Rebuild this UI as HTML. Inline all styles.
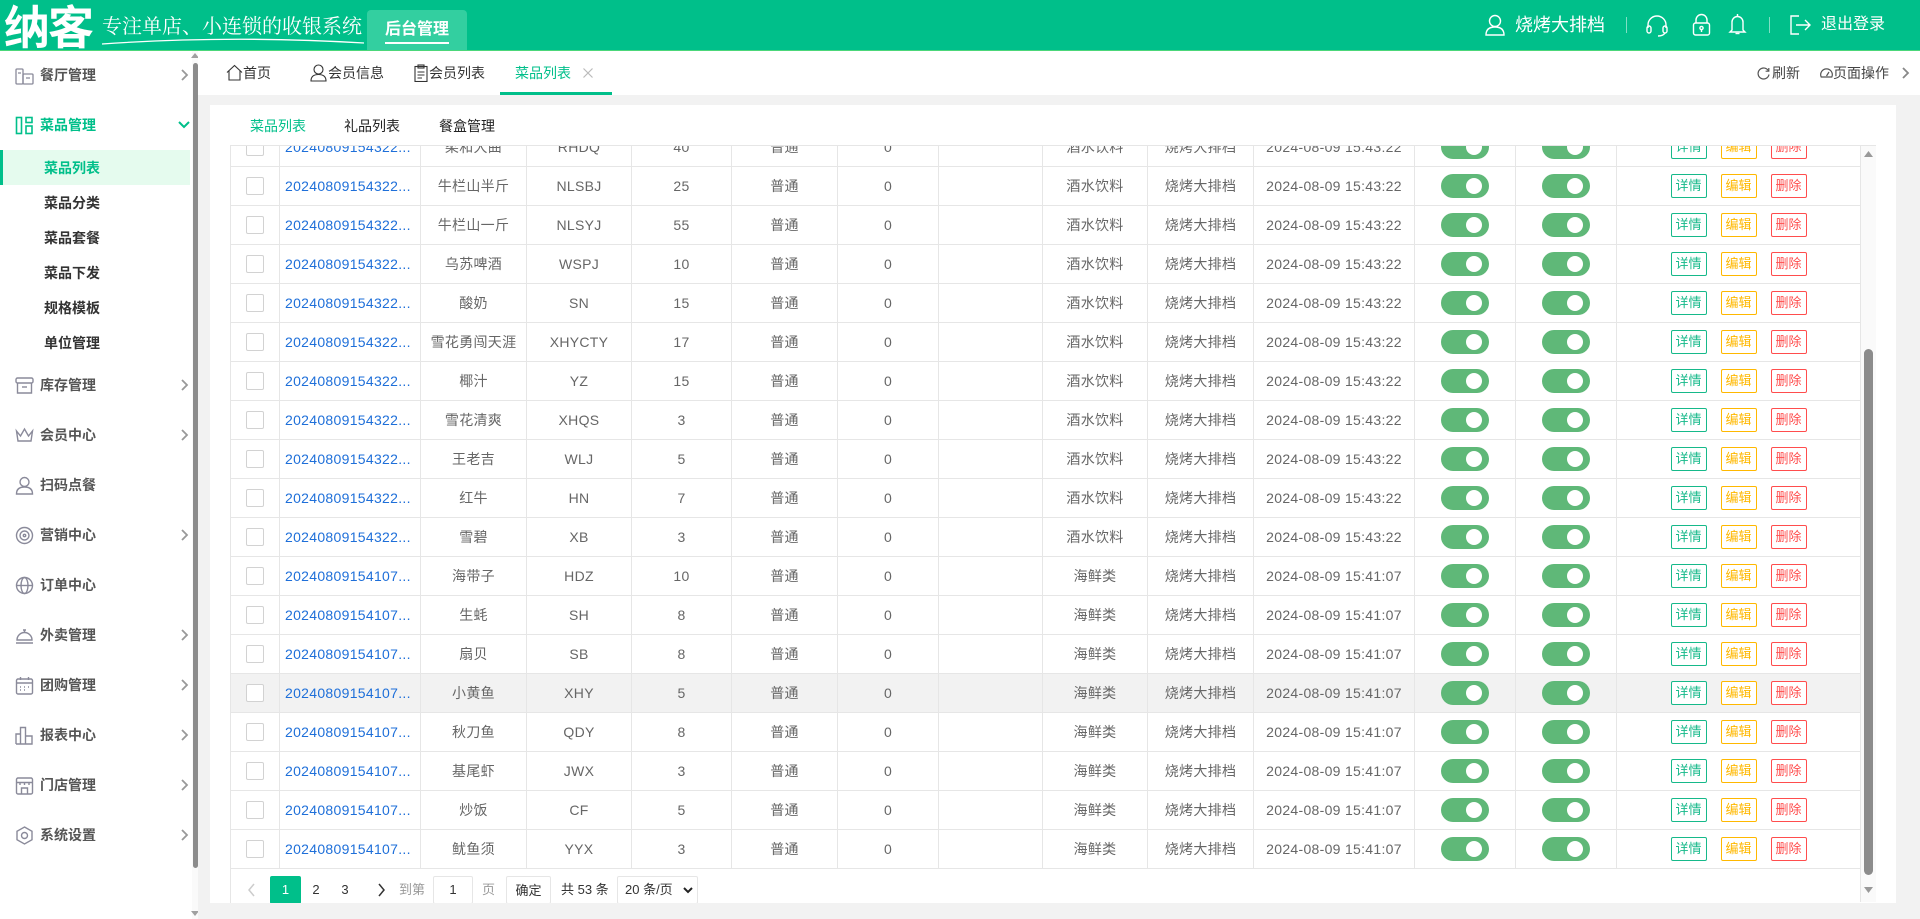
<!DOCTYPE html>
<html><head><meta charset="utf-8">
<style>
*{margin:0;padding:0;box-sizing:border-box}
body{width:1920px;height:919px;overflow:hidden;position:relative;background:#f2f2f2;font-family:"Liberation Sans","Noto Sans CJK SC",sans-serif;color:#333}
.a{position:absolute}
.hdr{left:0;top:0;width:1920px;height:50px;background:#00bf8a}
.hline{left:0;top:50px;width:1920px;height:1px;background:#4cd77a}
.side{left:0;top:51px;width:192px;height:868px;background:#fff}
.mi{position:absolute;left:40px;font-size:14px;font-weight:bold;color:#555;line-height:20px;white-space:nowrap}
.si{position:absolute;left:44px;font-size:14px;font-weight:bold;color:#333;line-height:20px;white-space:nowrap}
.chev{position:absolute;left:179px;width:10px;height:12px}
.ic{position:absolute;left:15px;width:19px;height:19px}
.tabbar{left:198px;top:51px;width:1722px;height:44px;background:#fff}
.tt{position:absolute;font-size:14px;color:#333;line-height:20px;top:63px;white-space:nowrap}
.panel{left:210px;top:105px;width:1686px;height:798px;background:#fff}
.rows{left:230px;top:146px;width:1630px;height:723px;overflow:hidden}
.row{position:absolute;left:0;width:1630px;height:39px;display:flex;border-bottom:1px solid #e6e6e6;background:#fff}
.row.hl{background:#f2f2f2}
.c{border-left:1px solid #e6e6e6;height:100%;display:flex;align-items:center;justify-content:center;font-size:14px;color:#666;white-space:nowrap;overflow:hidden;letter-spacing:0.3px}
.w1{width:49px}.w2{width:141px;justify-content:flex-start;padding-left:5px;color:#1e6fd9}.w3{width:106px}.w4{width:105px}.w5{width:100px}.w6{width:106px}.w7{width:101px}.w8{width:104px}.w9{width:105px}.w10{width:106px}.w11{width:161px}.w12{width:101px}.w13{width:101px}.w14{width:244px}
.cb{width:18px;height:18px;border:1px solid #d2d2d2;border-radius:2px;background:#fff}
.sw{width:48px;height:24px;border-radius:12px;background:#5fb878;position:relative}
.sw::after{content:"";position:absolute;left:25px;top:4px;width:16px;height:16px;border-radius:50%;background:#fff}
.bt{width:36px;height:24px;border:1px solid;border-radius:2px;font-size:13px;line-height:22px;text-align:center;letter-spacing:0;margin:0 7px;background:#fff}
.g{color:#16b98a;border-color:#16b98a}.y{color:#ffb800;border-color:#ffb800}.r{color:#ff4d4d;border-color:#ff4d4d}
.pg{position:absolute;top:876px;height:28px;line-height:28px;font-size:13px;color:#333;white-space:nowrap}
</style></head><body>

<!-- HEADER -->
<div class="a hdr"></div>
<div class="a hline"></div>
<div class="a" style="left:4px;top:0;height:50px;line-height:50px;font-size:46px;font-weight:bold;color:#fff;letter-spacing:-2px;font-family:'Noto Sans CJK SC',sans-serif">纳客</div>
<div class="a" style="left:102px;top:12px;line-height:26px;font-size:20px;color:#fff;font-family:'Noto Serif CJK SC',serif;white-space:nowrap">专注单店、小连锁的收银系统</div>
<svg class="a" style="left:100px;top:34px" width="266" height="14"><path d="M2 10 Q130 1 264 9" stroke="#fff" stroke-width="1.3" fill="none"/></svg>
<div class="a" style="left:367px;top:10px;width:100px;height:40px;background:#33cfa0;border-radius:4px 4px 0 0"></div>
<div class="a" style="left:385px;top:18px;line-height:24px;font-size:16px;font-weight:bold;color:#fff;white-space:nowrap">后台管理</div>
<div class="a" style="left:385px;top:42px;width:64px;height:2px;background:#fff"></div>

<svg class="a" style="left:1484px;top:13px" width="22" height="24" fill="none" stroke="#fff" stroke-width="1.4"><circle cx="11" cy="8" r="5.5"/><path d="M2 22 Q2 14 11 14 Q20 14 20 22 Z"/></svg>
<div class="a" style="left:1515px;top:13px;line-height:24px;font-size:18px;color:#fff;white-space:nowrap">烧烤大排档</div>
<div class="a" style="left:1626px;top:17px;width:1px;height:16px;background:rgba(255,255,255,.5)"></div>
<svg class="a" style="left:1645px;top:14px" width="24" height="24" fill="none" stroke="#fff" stroke-width="1.4"><path d="M3 14 V11 A9 9 0 0 1 21 11 V14"/><rect x="2" y="12" width="4" height="7" rx="2"/><rect x="18" y="12" width="4" height="7" rx="2"/><path d="M20 19 Q18 22 13 22"/></svg>
<svg class="a" style="left:1692px;top:13px" width="19" height="24" fill="none" stroke="#fff" stroke-width="1.4"><path d="M4 10 V7 A5.5 5.5 0 0 1 15 7 V10"/><rect x="1.5" y="10" width="16" height="12" rx="2"/><circle cx="9.5" cy="15" r="1.6"/><path d="M9.5 16.5 V19"/></svg>
<svg class="a" style="left:1728px;top:12px" width="19" height="24" fill="none" stroke="#fff" stroke-width="1.4"><path d="M9.5 2 V4 M4 18 V10 A5.5 5.5 0 0 1 15 10 V18 L17 20 H2 L4 18 Z"/><path d="M7.5 21.5 H11.5"/></svg>
<div class="a" style="left:1769px;top:17px;width:1px;height:16px;background:rgba(255,255,255,.5)"></div>
<svg class="a" style="left:1789px;top:14px" width="23" height="22" fill="none" stroke="#fff" stroke-width="1.4"><path d="M10 2 H2 V20 H10"/><path d="M7 11 H21 M16 6 L21 11 L16 16"/></svg>
<div class="a" style="left:1821px;top:13px;line-height:24px;font-size:16px;color:#fff;white-space:nowrap">退出登录</div>

<!-- SIDEBAR -->
<div class="a side">
  <!-- y offsets relative to top 51 -->
  <svg class="ic" style="top:15px" viewBox="0 0 19 19" fill="none" stroke="#8a8a9a" stroke-width="1.3"><rect x="1" y="3" width="7" height="15" rx="1"/><rect x="8" y="8" width="10" height="10" rx="1"/><path d="M3 7 H6 M11 12 H15"/></svg>
  <div class="mi" style="top:14px">餐厅管理</div>
  <svg class="chev" style="top:18px" viewBox="0 0 10 12"><path d="M3 1 L8 6 L3 11" stroke="#999" stroke-width="1.8" fill="none"/></svg>

  <svg class="ic" style="top:65px" viewBox="0 0 19 19" fill="none" stroke="#00bf8a" stroke-width="1.6"><rect x="1.5" y="1.5" width="5" height="16"/><rect x="11" y="1.5" width="6" height="5"/><rect x="11" y="10" width="6" height="7.5"/></svg>
  <div class="mi" style="top:64px;color:#00bf8a">菜品管理</div>
  <svg class="chev" style="left:178px;top:68px;width:12px" viewBox="0 0 12 10"><path d="M1 2 L6 7 L11 2" stroke="#00bf8a" stroke-width="2" fill="none"/></svg>

  <div class="a" style="left:0;top:99px;width:190px;height:35px;background:#e5fbee"></div>
  <div class="a" style="left:0;top:99px;width:3px;height:35px;background:#00bf8a"></div>
  <div class="si" style="top:107px;color:#00bf8a">菜品列表</div>
  <div class="si" style="top:142px">菜品分类</div>
  <div class="si" style="top:177px">菜品套餐</div>
  <div class="si" style="top:212px">菜品下发</div>
  <div class="si" style="top:247px">规格模板</div>
  <div class="si" style="top:282px">单位管理</div>

  <svg class="ic" style="top:325px" viewBox="0 0 19 19" fill="none" stroke="#8a8a9a" stroke-width="1.4"><rect x="1" y="2" width="17" height="5" rx="1.5"/><path d="M2.5 7 V17 H16.5 V7"/><path d="M7 11 H12"/></svg>
  <div class="mi" style="top:324px">库存管理</div>
  <svg class="chev" style="top:328px" viewBox="0 0 10 12"><path d="M3 1 L8 6 L3 11" stroke="#999" stroke-width="1.8" fill="none"/></svg>

  <svg class="ic" style="top:375px" viewBox="0 0 19 19" fill="none" stroke="#8a8a9a" stroke-width="1.4"><path d="M1.5 5 L5.5 10 L9.5 3 L13.5 10 L17.5 5 L16 15 H3 Z"/></svg>
  <div class="mi" style="top:374px">会员中心</div>
  <svg class="chev" style="top:378px" viewBox="0 0 10 12"><path d="M3 1 L8 6 L3 11" stroke="#999" stroke-width="1.8" fill="none"/></svg>

  <svg class="ic" style="top:425px" viewBox="0 0 19 19" fill="none" stroke="#8a8a9a" stroke-width="1.4"><circle cx="9.5" cy="6" r="4.5"/><path d="M1.5 18 Q1.5 11 9.5 11 Q17.5 11 17.5 18 Z"/></svg>
  <div class="mi" style="top:424px">扫码点餐</div>

  <svg class="ic" style="top:475px" viewBox="0 0 19 19" fill="none" stroke="#8a8a9a" stroke-width="1.4"><circle cx="9.5" cy="9.5" r="8"/><circle cx="9.5" cy="9.5" r="4.5"/><circle cx="9.5" cy="9.5" r="1.2"/></svg>
  <div class="mi" style="top:474px">营销中心</div>
  <svg class="chev" style="top:478px" viewBox="0 0 10 12"><path d="M3 1 L8 6 L3 11" stroke="#999" stroke-width="1.8" fill="none"/></svg>

  <svg class="ic" style="top:525px" viewBox="0 0 19 19" fill="none" stroke="#8a8a9a" stroke-width="1.4"><circle cx="9.5" cy="9.5" r="8"/><ellipse cx="9.5" cy="9.5" rx="3.5" ry="8"/><path d="M1.5 9.5 H17.5"/></svg>
  <div class="mi" style="top:524px">订单中心</div>

  <svg class="ic" style="top:575px" viewBox="0 0 19 19" fill="none" stroke="#8a8a9a" stroke-width="1.4"><path d="M2 14 A7.5 7.5 0 0 1 17 14 Z"/><path d="M1 17 H18"/><path d="M8 4 L11 4 M9.5 4 V6.5"/></svg>
  <div class="mi" style="top:574px">外卖管理</div>
  <svg class="chev" style="top:578px" viewBox="0 0 10 12"><path d="M3 1 L8 6 L3 11" stroke="#999" stroke-width="1.8" fill="none"/></svg>

  <svg class="ic" style="top:625px" viewBox="0 0 19 19" fill="none" stroke="#8a8a9a" stroke-width="1.4"><rect x="1.5" y="3" width="16" height="15" rx="1.5"/><path d="M1.5 7 H17.5 M5.5 1 V4 M13.5 1 V4"/><path d="M5 11 H6 M9 11 H10 M13 11 H14 M5 14 H6 M9 14 H10"/></svg>
  <div class="mi" style="top:624px">团购管理</div>
  <svg class="chev" style="top:628px" viewBox="0 0 10 12"><path d="M3 1 L8 6 L3 11" stroke="#999" stroke-width="1.8" fill="none"/></svg>

  <svg class="ic" style="top:675px" viewBox="0 0 19 19" fill="none" stroke="#8a8a9a" stroke-width="1.4"><path d="M1 18 V8 H5.5 V18 M5.5 18 V1.5 H10.5 V18 M10.5 18 V10 H17 V18 Z M1 18 H17"/></svg>
  <div class="mi" style="top:674px">报表中心</div>
  <svg class="chev" style="top:678px" viewBox="0 0 10 12"><path d="M3 1 L8 6 L3 11" stroke="#999" stroke-width="1.8" fill="none"/></svg>

  <svg class="ic" style="top:725px" viewBox="0 0 19 19" fill="none" stroke="#8a8a9a" stroke-width="1.4"><rect x="1.5" y="2" width="16" height="16" rx="1.5"/><path d="M1.5 6.5 H17.5 M5 6.5 V9 M9.5 6.5 V9 M14 6.5 V9"/><path d="M6.5 18 V12 H12.5 V18"/></svg>
  <div class="mi" style="top:724px">门店管理</div>
  <svg class="chev" style="top:728px" viewBox="0 0 10 12"><path d="M3 1 L8 6 L3 11" stroke="#999" stroke-width="1.8" fill="none"/></svg>

  <svg class="ic" style="top:775px" viewBox="0 0 19 19" fill="none" stroke="#8a8a9a" stroke-width="1.4"><path d="M9.5 1 L17 5.3 V13.7 L9.5 18 L2 13.7 V5.3 Z"/><circle cx="9.5" cy="9.5" r="3"/></svg>
  <div class="mi" style="top:774px">系统设置</div>
  <svg class="chev" style="top:778px" viewBox="0 0 10 12"><path d="M3 1 L8 6 L3 11" stroke="#999" stroke-width="1.8" fill="none"/></svg>
</div>
<!-- sidebar scrollbar -->
<div class="a" style="left:192px;top:51px;width:6px;height:868px;background:#fafafa"></div>
<div class="a" style="left:193px;top:63px;width:5px;height:805px;background:#8c8c8c;border-radius:3px"></div>
<svg class="a" style="left:191px;top:53px" width="8" height="5"><path d="M0 5 L4 0 L8 5 Z" fill="#a0a0a0"/></svg>
<svg class="a" style="left:191px;top:911px" width="8" height="5"><path d="M0 0 L4 5 L8 0 Z" fill="#a0a0a0"/></svg>

<!-- TAB BAR -->
<div class="a tabbar"></div>
<svg class="a" style="left:226px;top:64px" width="17" height="17" fill="none" stroke="#333" stroke-width="1.1"><path d="M1 8.5 L8.5 1.5 L16 8.5 M3 7 V16 H14 V7"/></svg>
<div class="tt" style="left:243px">首页</div>
<svg class="a" style="left:310px;top:64px" width="17" height="18" fill="none" stroke="#333" stroke-width="1.1"><circle cx="8.5" cy="5.5" r="4.5"/><path d="M1 17 Q1 10.5 8.5 10.5 Q16 10.5 16 17 Z"/></svg>
<div class="tt" style="left:328px">会员信息</div>
<svg class="a" style="left:414px;top:64px" width="14" height="18" fill="none" stroke="#333" stroke-width="1.1"><rect x="1" y="2.5" width="12" height="15"/><rect x="4" y="1" width="6" height="3"/><path d="M3.5 8 H10.5 M3.5 11 H10.5 M3.5 14 H8"/></svg>
<div class="tt" style="left:429px">会员列表</div>
<div class="tt" style="left:515px;color:#00bf8a">菜品列表</div>
<svg class="a" style="left:583px;top:68px" width="10" height="10"><path d="M0.5 0.5 L9.5 9.5 M9.5 0.5 L0.5 9.5" stroke="#bbb" stroke-width="1.2"/></svg>
<div class="a" style="left:500px;top:92px;width:112px;height:3px;background:#00bf8a"></div>

<svg class="a" style="left:1757px;top:67px" width="13" height="13" fill="none" stroke="#555" stroke-width="1.2"><path d="M11.5 4 A5.5 5.5 0 1 0 12 7.5"/><path d="M11.8 1 V4.2 H8.6"/></svg>
<div class="tt" style="left:1772px;color:#444">刷新</div>
<svg class="a" style="left:1820px;top:67px" width="13" height="13" fill="none" stroke="#555" stroke-width="1.2"><path d="M1.2 10 A5.8 5.8 0 1 1 11.8 10 Z"/><path d="M6.5 9 L9 5"/></svg>
<div class="tt" style="left:1833px;color:#444">页面操作</div>
<svg class="a" style="left:1901px;top:67px" width="9" height="12"><path d="M2 1 L7 6 L2 11" stroke="#888" stroke-width="1.8" fill="none"/></svg>

<!-- PANEL -->
<div class="a panel"></div>
<div class="a" style="left:250px;top:116px;font-size:14px;line-height:20px;color:#00bf8a">菜品列表</div>
<div class="a" style="left:344px;top:116px;font-size:14px;line-height:20px;color:#222">礼品列表</div>
<div class="a" style="left:439px;top:116px;font-size:14px;line-height:20px;color:#222">餐盒管理</div>
<div class="a" style="left:230px;top:145px;width:1646px;height:1px;background:#e6e6e6"></div>

<div class="a rows">
<div class="row" style="top:-18px"><div class="c w1"><div class="cb"></div></div><div class="c w2">20240809154322...</div><div class="c w3">柔和大曲</div><div class="c w4">RHDQ</div><div class="c w5">40</div><div class="c w6">普通</div><div class="c w7">0</div><div class="c w8"></div><div class="c w9">酒水饮料</div><div class="c w10">烧烤大排档</div><div class="c w11">2024-08-09 15:43:22</div><div class="c w12"><div class="sw"></div></div><div class="c w13"><div class="sw"></div></div><div class="c w14"><div class="bt g">详情</div><div class="bt y">编辑</div><div class="bt r">删除</div></div></div>
<div class="row" style="top:21px"><div class="c w1"><div class="cb"></div></div><div class="c w2">20240809154322...</div><div class="c w3">牛栏山半斤</div><div class="c w4">NLSBJ</div><div class="c w5">25</div><div class="c w6">普通</div><div class="c w7">0</div><div class="c w8"></div><div class="c w9">酒水饮料</div><div class="c w10">烧烤大排档</div><div class="c w11">2024-08-09 15:43:22</div><div class="c w12"><div class="sw"></div></div><div class="c w13"><div class="sw"></div></div><div class="c w14"><div class="bt g">详情</div><div class="bt y">编辑</div><div class="bt r">删除</div></div></div>
<div class="row" style="top:60px"><div class="c w1"><div class="cb"></div></div><div class="c w2">20240809154322...</div><div class="c w3">牛栏山一斤</div><div class="c w4">NLSYJ</div><div class="c w5">55</div><div class="c w6">普通</div><div class="c w7">0</div><div class="c w8"></div><div class="c w9">酒水饮料</div><div class="c w10">烧烤大排档</div><div class="c w11">2024-08-09 15:43:22</div><div class="c w12"><div class="sw"></div></div><div class="c w13"><div class="sw"></div></div><div class="c w14"><div class="bt g">详情</div><div class="bt y">编辑</div><div class="bt r">删除</div></div></div>
<div class="row" style="top:99px"><div class="c w1"><div class="cb"></div></div><div class="c w2">20240809154322...</div><div class="c w3">乌苏啤酒</div><div class="c w4">WSPJ</div><div class="c w5">10</div><div class="c w6">普通</div><div class="c w7">0</div><div class="c w8"></div><div class="c w9">酒水饮料</div><div class="c w10">烧烤大排档</div><div class="c w11">2024-08-09 15:43:22</div><div class="c w12"><div class="sw"></div></div><div class="c w13"><div class="sw"></div></div><div class="c w14"><div class="bt g">详情</div><div class="bt y">编辑</div><div class="bt r">删除</div></div></div>
<div class="row" style="top:138px"><div class="c w1"><div class="cb"></div></div><div class="c w2">20240809154322...</div><div class="c w3">酸奶</div><div class="c w4">SN</div><div class="c w5">15</div><div class="c w6">普通</div><div class="c w7">0</div><div class="c w8"></div><div class="c w9">酒水饮料</div><div class="c w10">烧烤大排档</div><div class="c w11">2024-08-09 15:43:22</div><div class="c w12"><div class="sw"></div></div><div class="c w13"><div class="sw"></div></div><div class="c w14"><div class="bt g">详情</div><div class="bt y">编辑</div><div class="bt r">删除</div></div></div>
<div class="row" style="top:177px"><div class="c w1"><div class="cb"></div></div><div class="c w2">20240809154322...</div><div class="c w3">雪花勇闯天涯</div><div class="c w4">XHYCTY</div><div class="c w5">17</div><div class="c w6">普通</div><div class="c w7">0</div><div class="c w8"></div><div class="c w9">酒水饮料</div><div class="c w10">烧烤大排档</div><div class="c w11">2024-08-09 15:43:22</div><div class="c w12"><div class="sw"></div></div><div class="c w13"><div class="sw"></div></div><div class="c w14"><div class="bt g">详情</div><div class="bt y">编辑</div><div class="bt r">删除</div></div></div>
<div class="row" style="top:216px"><div class="c w1"><div class="cb"></div></div><div class="c w2">20240809154322...</div><div class="c w3">椰汁</div><div class="c w4">YZ</div><div class="c w5">15</div><div class="c w6">普通</div><div class="c w7">0</div><div class="c w8"></div><div class="c w9">酒水饮料</div><div class="c w10">烧烤大排档</div><div class="c w11">2024-08-09 15:43:22</div><div class="c w12"><div class="sw"></div></div><div class="c w13"><div class="sw"></div></div><div class="c w14"><div class="bt g">详情</div><div class="bt y">编辑</div><div class="bt r">删除</div></div></div>
<div class="row" style="top:255px"><div class="c w1"><div class="cb"></div></div><div class="c w2">20240809154322...</div><div class="c w3">雪花清爽</div><div class="c w4">XHQS</div><div class="c w5">3</div><div class="c w6">普通</div><div class="c w7">0</div><div class="c w8"></div><div class="c w9">酒水饮料</div><div class="c w10">烧烤大排档</div><div class="c w11">2024-08-09 15:43:22</div><div class="c w12"><div class="sw"></div></div><div class="c w13"><div class="sw"></div></div><div class="c w14"><div class="bt g">详情</div><div class="bt y">编辑</div><div class="bt r">删除</div></div></div>
<div class="row" style="top:294px"><div class="c w1"><div class="cb"></div></div><div class="c w2">20240809154322...</div><div class="c w3">王老吉</div><div class="c w4">WLJ</div><div class="c w5">5</div><div class="c w6">普通</div><div class="c w7">0</div><div class="c w8"></div><div class="c w9">酒水饮料</div><div class="c w10">烧烤大排档</div><div class="c w11">2024-08-09 15:43:22</div><div class="c w12"><div class="sw"></div></div><div class="c w13"><div class="sw"></div></div><div class="c w14"><div class="bt g">详情</div><div class="bt y">编辑</div><div class="bt r">删除</div></div></div>
<div class="row" style="top:333px"><div class="c w1"><div class="cb"></div></div><div class="c w2">20240809154322...</div><div class="c w3">红牛</div><div class="c w4">HN</div><div class="c w5">7</div><div class="c w6">普通</div><div class="c w7">0</div><div class="c w8"></div><div class="c w9">酒水饮料</div><div class="c w10">烧烤大排档</div><div class="c w11">2024-08-09 15:43:22</div><div class="c w12"><div class="sw"></div></div><div class="c w13"><div class="sw"></div></div><div class="c w14"><div class="bt g">详情</div><div class="bt y">编辑</div><div class="bt r">删除</div></div></div>
<div class="row" style="top:372px"><div class="c w1"><div class="cb"></div></div><div class="c w2">20240809154322...</div><div class="c w3">雪碧</div><div class="c w4">XB</div><div class="c w5">3</div><div class="c w6">普通</div><div class="c w7">0</div><div class="c w8"></div><div class="c w9">酒水饮料</div><div class="c w10">烧烤大排档</div><div class="c w11">2024-08-09 15:43:22</div><div class="c w12"><div class="sw"></div></div><div class="c w13"><div class="sw"></div></div><div class="c w14"><div class="bt g">详情</div><div class="bt y">编辑</div><div class="bt r">删除</div></div></div>
<div class="row" style="top:411px"><div class="c w1"><div class="cb"></div></div><div class="c w2">20240809154107...</div><div class="c w3">海带子</div><div class="c w4">HDZ</div><div class="c w5">10</div><div class="c w6">普通</div><div class="c w7">0</div><div class="c w8"></div><div class="c w9">海鲜类</div><div class="c w10">烧烤大排档</div><div class="c w11">2024-08-09 15:41:07</div><div class="c w12"><div class="sw"></div></div><div class="c w13"><div class="sw"></div></div><div class="c w14"><div class="bt g">详情</div><div class="bt y">编辑</div><div class="bt r">删除</div></div></div>
<div class="row" style="top:450px"><div class="c w1"><div class="cb"></div></div><div class="c w2">20240809154107...</div><div class="c w3">生蚝</div><div class="c w4">SH</div><div class="c w5">8</div><div class="c w6">普通</div><div class="c w7">0</div><div class="c w8"></div><div class="c w9">海鲜类</div><div class="c w10">烧烤大排档</div><div class="c w11">2024-08-09 15:41:07</div><div class="c w12"><div class="sw"></div></div><div class="c w13"><div class="sw"></div></div><div class="c w14"><div class="bt g">详情</div><div class="bt y">编辑</div><div class="bt r">删除</div></div></div>
<div class="row" style="top:489px"><div class="c w1"><div class="cb"></div></div><div class="c w2">20240809154107...</div><div class="c w3">扇贝</div><div class="c w4">SB</div><div class="c w5">8</div><div class="c w6">普通</div><div class="c w7">0</div><div class="c w8"></div><div class="c w9">海鲜类</div><div class="c w10">烧烤大排档</div><div class="c w11">2024-08-09 15:41:07</div><div class="c w12"><div class="sw"></div></div><div class="c w13"><div class="sw"></div></div><div class="c w14"><div class="bt g">详情</div><div class="bt y">编辑</div><div class="bt r">删除</div></div></div>
<div class="row hl" style="top:528px"><div class="c w1"><div class="cb"></div></div><div class="c w2">20240809154107...</div><div class="c w3">小黄鱼</div><div class="c w4">XHY</div><div class="c w5">5</div><div class="c w6">普通</div><div class="c w7">0</div><div class="c w8"></div><div class="c w9">海鲜类</div><div class="c w10">烧烤大排档</div><div class="c w11">2024-08-09 15:41:07</div><div class="c w12"><div class="sw"></div></div><div class="c w13"><div class="sw"></div></div><div class="c w14"><div class="bt g">详情</div><div class="bt y">编辑</div><div class="bt r">删除</div></div></div>
<div class="row" style="top:567px"><div class="c w1"><div class="cb"></div></div><div class="c w2">20240809154107...</div><div class="c w3">秋刀鱼</div><div class="c w4">QDY</div><div class="c w5">8</div><div class="c w6">普通</div><div class="c w7">0</div><div class="c w8"></div><div class="c w9">海鲜类</div><div class="c w10">烧烤大排档</div><div class="c w11">2024-08-09 15:41:07</div><div class="c w12"><div class="sw"></div></div><div class="c w13"><div class="sw"></div></div><div class="c w14"><div class="bt g">详情</div><div class="bt y">编辑</div><div class="bt r">删除</div></div></div>
<div class="row" style="top:606px"><div class="c w1"><div class="cb"></div></div><div class="c w2">20240809154107...</div><div class="c w3">基尾虾</div><div class="c w4">JWX</div><div class="c w5">3</div><div class="c w6">普通</div><div class="c w7">0</div><div class="c w8"></div><div class="c w9">海鲜类</div><div class="c w10">烧烤大排档</div><div class="c w11">2024-08-09 15:41:07</div><div class="c w12"><div class="sw"></div></div><div class="c w13"><div class="sw"></div></div><div class="c w14"><div class="bt g">详情</div><div class="bt y">编辑</div><div class="bt r">删除</div></div></div>
<div class="row" style="top:645px"><div class="c w1"><div class="cb"></div></div><div class="c w2">20240809154107...</div><div class="c w3">炒饭</div><div class="c w4">CF</div><div class="c w5">5</div><div class="c w6">普通</div><div class="c w7">0</div><div class="c w8"></div><div class="c w9">海鲜类</div><div class="c w10">烧烤大排档</div><div class="c w11">2024-08-09 15:41:07</div><div class="c w12"><div class="sw"></div></div><div class="c w13"><div class="sw"></div></div><div class="c w14"><div class="bt g">详情</div><div class="bt y">编辑</div><div class="bt r">删除</div></div></div>
<div class="row" style="top:684px"><div class="c w1"><div class="cb"></div></div><div class="c w2">20240809154107...</div><div class="c w3">鱿鱼须</div><div class="c w4">YYX</div><div class="c w5">3</div><div class="c w6">普通</div><div class="c w7">0</div><div class="c w8"></div><div class="c w9">海鲜类</div><div class="c w10">烧烤大排档</div><div class="c w11">2024-08-09 15:41:07</div><div class="c w12"><div class="sw"></div></div><div class="c w13"><div class="sw"></div></div><div class="c w14"><div class="bt g">详情</div><div class="bt y">编辑</div><div class="bt r">删除</div></div></div>
</div>

<!-- table left border below rows -->
<div class="a" style="left:230px;top:868px;width:1px;height:36px;background:#e6e6e6"></div>

<!-- table scrollbar -->
<div class="a" style="left:1860px;top:146px;width:16px;height:756px;background:#fafafa;border-left:1px solid #e6e6e6"></div>
<div class="a" style="left:1864px;top:349px;width:9px;height:526px;background:#8c8c8c;border-radius:5px"></div>
<svg class="a" style="left:1864px;top:151px" width="9" height="6"><path d="M0 6 L4.5 0 L9 6 Z" fill="#999"/></svg>
<svg class="a" style="left:1864px;top:887px" width="9" height="6"><path d="M0 0 L4.5 6 L9 0 Z" fill="#999"/></svg>

<!-- PAGINATION -->
<svg class="a" style="left:247px;top:883px" width="9" height="14"><path d="M7 1 L2 7 L7 13" stroke="#ccc" stroke-width="1.5" fill="none"/></svg>
<div class="pg" style="left:270px;width:31px;background:#00bf8a;color:#fff;text-align:center;border-radius:2px">1</div>
<div class="pg" style="left:305px;width:22px;text-align:center">2</div>
<div class="pg" style="left:334px;width:22px;text-align:center">3</div>
<svg class="a" style="left:377px;top:883px" width="9" height="14"><path d="M2 1 L7 7 L2 13" stroke="#333" stroke-width="1.5" fill="none"/></svg>
<div class="pg" style="left:399px;color:#999">到第</div>
<div class="pg" style="left:433px;width:40px;border:1px solid #e6e6e6;text-align:center;line-height:26px;border-radius:2px">1</div>
<div class="pg" style="left:482px;color:#999">页</div>
<div class="pg" style="left:506px;width:45px;border:1px solid #e6e6e6;text-align:center;line-height:28px;border-radius:2px">确定</div>
<div class="pg" style="left:561px">共 53 条</div>
<div class="pg" style="left:617px;width:81px;border:1px solid #e6e6e6;line-height:26px;padding-left:7px;border-radius:2px">20 条/页</div>
<svg class="a" style="left:683px;top:887px" width="10" height="7"><path d="M1 1 L5 5 L9 1" stroke="#222" stroke-width="2" fill="none"/></svg>

<!-- bottom gray strip covering clipped pagination -->
<div class="a" style="left:198px;top:903px;width:1722px;height:16px;background:#f2f2f2"></div>
</body></html>
